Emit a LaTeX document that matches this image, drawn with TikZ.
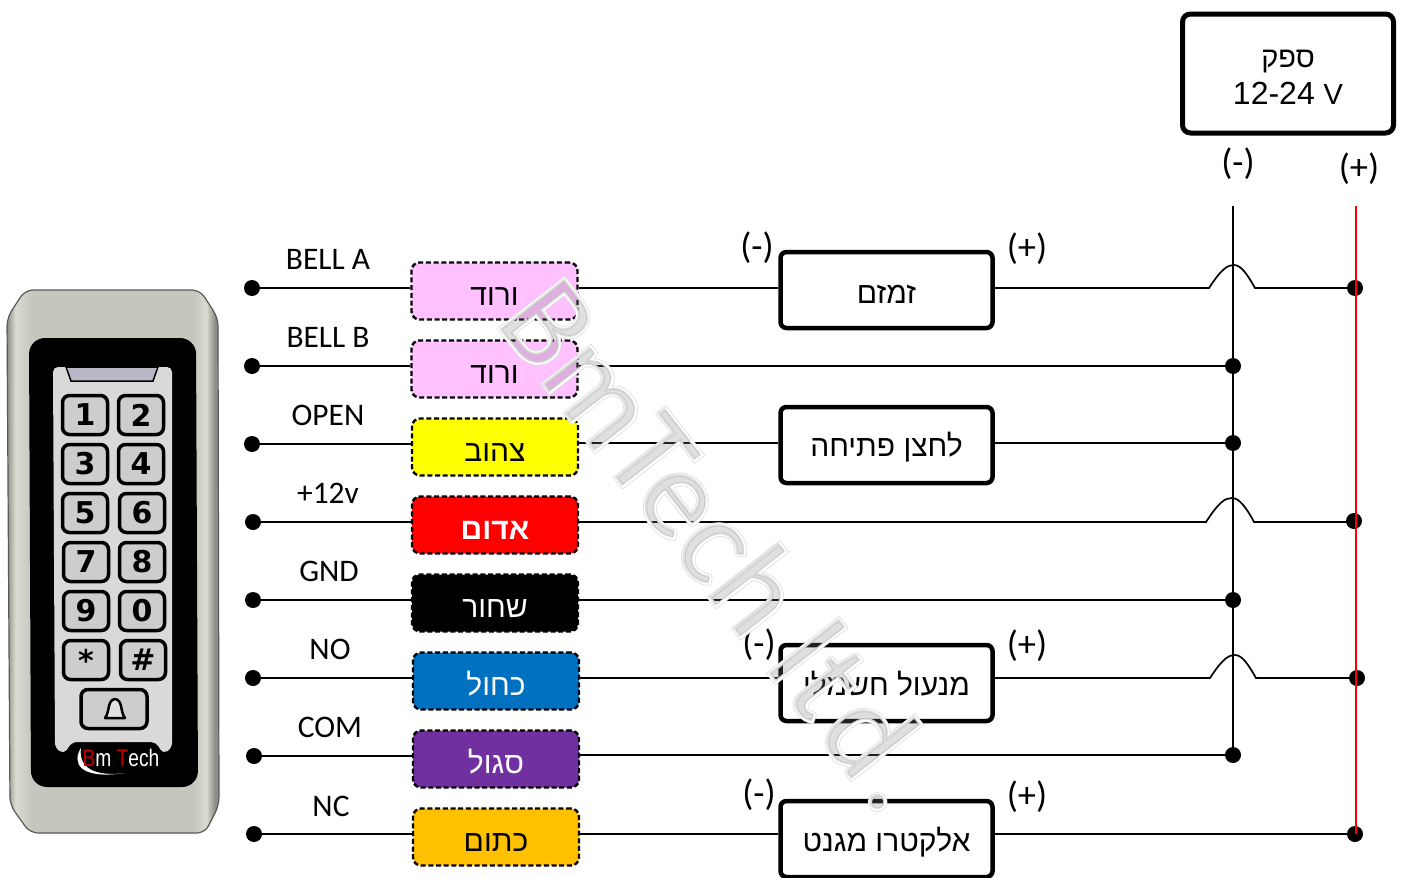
\documentclass[tikz,border=0pt]{standalone}
\usepackage{fontspec}
\usetikzlibrary{calc}
\setmainfont{Liberation Sans}
\newfontfamily\hefont[Script=Hebrew]{Liberation Sans}
\newfontfamily\parenfont{Carlito}
\newfontfamily\keyfont{DejaVu Sans}
\TeXXeTstate=1
\newcommand{\fs}[1]{\fontsize{#1}{#1}\selectfont}
\newcommand{\tg}[1]{\raisebox{-14pt}[0pt][0pt]{#1}}
\newcommand{\bk}[2]{\raisebox{-#1pt}[0pt][0pt]{#2}}
\definecolor{pinkc}{HTML}{FFC1FF}
\definecolor{yellowc}{HTML}{FFFF00}
\definecolor{redc}{HTML}{FF0000}
\definecolor{bluec}{HTML}{0070C0}
\definecolor{purplec}{HTML}{7030A0}
\definecolor{orangec}{HTML}{FFC000}
\definecolor{metaledge}{HTML}{8E8E88}
\definecolor{metalmid}{HTML}{C6C6BE}
\definecolor{metallight}{HTML}{DADAD0}
\definecolor{panelc}{HTML}{D9D9D9}
\definecolor{keyc}{HTML}{CDCDCD}
\definecolor{ledc}{HTML}{B8B8C6}
\pgfdeclarehorizontalshading{metalh}{100bp}{color(0bp)=(metaledge); color(25bp)=(metaledge); color(27bp)=(metallight); color(31bp)=(metalmid); color(69bp)=(metalmid); color(72bp)=(metallight); color(74bp)=(metaledge); color(100bp)=(metaledge)}
\tikzset{
  dotn/.style={circle,fill=black,inner sep=0pt,minimum size=16pt},
  jdot/.style={circle,fill=black,inner sep=0pt,minimum size=16pt},
  wire/.style={line width=1.7pt,black},
  redwire/.style={line width=1.7pt,redc},
  tagbox/.style={draw=black,dashed,dash pattern=on 5pt off 2.7pt,line width=2.4pt,rounded corners=8pt,minimum width=166pt,minimum height=57pt,inner sep=0pt,font=\fs{30}},
  blockbox/.style={draw=black,line width=4.5pt,rounded corners=6pt,fill=white,minimum width=212pt,minimum height=76pt,inner sep=0pt,font=\fs{30}},
  lab/.style={font=\parenfont\fs{31.4},inner sep=0pt},
  pol/.style={font=\parenfont\fs{36.5},inner sep=0pt},
  key/.style={draw=black,line width=3.5pt,rounded corners=7pt,fill=keyc,minimum width=45pt,minimum height=39pt,inner sep=0pt,font=\keyfont\bfseries\fs{30}},
}
\newcommand{\wm}[3]{\node[anchor=base west,inner sep=0pt,rotate=-52,font=\parenfont\fs{128},#3] at (494,322) {\special{pdf:code #1}BmTech l\kern4pt t\kern9pt d\kern9pt.\special{pdf:code 0 Tr}};}
\begin{document}
\begin{tikzpicture}[x=1pt,y=-1pt]
\useasboundingbox (0,0) rectangle (1403,878);
\fill[white] (0,0) rectangle (1403,878);
% reader body
\path[shading=metalh,draw=gray!70!black,line width=1.2pt,rounded corners=8pt] (25,290) -- (200,290) -- (218,318) -- (219,805) -- (205,833) -- (30,833) -- (10,805) -- (7,318) -- cycle;
\fill[black,rounded corners=16pt] (29,338) -- (196,338) -- (198,787) -- (31,787) -- cycle;
\fill[panelc,rounded corners=5pt] (53,367) -- (172,367) -- (172,748) -- (163,754) -- (156,742) -- (72,742) -- (64,754) -- (55,748) -- cycle;
\fill[ledc,draw=black,line width=1.5pt] (66,367) -- (158,367) -- (153,381) -- (71,381) -- cycle;
\node[key] (k1) at (85,415) {1};
\node[key] (k2) at (141,415) {2};
\node[key] (k3) at (85,464) {3};
\node[key] (k4) at (141,464) {4};
\node[key] (k5) at (85,513) {5};
\node[key] (k6) at (142,513) {6};
\node[key] (k7) at (86,562) {7};
\node[key] (k8) at (142,562) {8};
\node[key] (k9) at (86,611) {9};
\node[key] (k0) at (142,611) {0};
\node[key] (ks) at (86,660) {*};
\node[key] (kh) at (143,660) {\#};
\node[key,minimum width=66pt] (kb) at (114,709) {};
\draw[black,line width=2.5pt,fill=keyc!60!white,line join=round] (105,718) .. controls (110,712) and (107,700) .. (115,699) .. controls (123,700) and (120,712) .. (125,718) -- cycle;
\fill[white] (81,748) .. controls (72,762) and (78,780) .. (125,773) .. controls (95,777) and (78,768) .. (81,748) -- cycle;
\node[inner sep=0pt,font=\fs{24},white,xscale=.8] (logo) at (121,758) {\textcolor{red!75!black}{B}m \textcolor{red!75!black}{T}ech};
% terminals
\foreach \n/\x/\y in {1/252/288,2/252/366,3/252/444,4/253/522,5/253/600,6/253/678,7/254/756,8/254/834}
  \node[dotn] (d\n) at (\x,\y) {};
% tags
\node[tagbox,fill=pinkc] (t1) at (494.5,291) {\tg{\hefont\beginR ורוד\endR}};
\node[tagbox,fill=pinkc] (t2) at (494.5,369) {\tg{\hefont\beginR ורוד\endR}};
\node[tagbox,fill=yellowc] (t3) at (495,447) {\tg{\hefont\beginR צהוב\endR}};
\node[tagbox,fill=redc,text=white,font=\fs{30}\bfseries] (t4) at (495,525) {\tg{\hefont\beginR אדום\endR}};
\node[tagbox,fill=black,text=white] (t5) at (495,603) {\tg{\hefont\beginR שחור\endR}};
\node[tagbox,fill=bluec,text=white] (t6) at (496,681) {\tg{\hefont\beginR כחול\endR}};
\node[tagbox,fill=purplec,text=white] (t7) at (496,759) {\tg{\hefont\beginR סגול\endR}};
\node[tagbox,fill=orangec] (t8) at (496,837) {\tg{\hefont\beginR כתום\endR}};
% labels
\node[lab] (l1) at (328,259) {BELL A};
\node[lab] (l2) at (328,337) {BELL B};
\node[lab] (l3) at (328,415) {OPEN};
\node[lab] (l4) at (328,493) {+12v};
\node[lab] (l5) at (329,571) {GND};
\node[lab] (l6) at (330,649) {NO};
\node[lab] (l7) at (330,727) {COM};
\node[lab] (l8) at (331,806) {NC};
% blocks
\node[blockbox] (bz) at (886.5,290) {\bk{13.5}{\hefont\beginR זמזם\endR}};
\node[blockbox] (bo) at (886.5,445) {\bk{11.5}{\hefont\beginR לחצן פתיחה\endR}};
\node[blockbox] (bm) at (886.5,683) {\bk{12.5}{\hefont\beginR מנעול חשמלי\endR}};
\node[blockbox] (be) at (886.5,839) {\bk{12.5}{\hefont\beginR אלקטרו מגנט\endR}};
\node[draw=black,line width=5pt,rounded corners=8pt,minimum width=211pt,minimum height=119pt,inner sep=0pt,align=center,font=\fs{32}] (sup) at (1288,73.5) {\rule{0pt}{24pt}{\fs{29}\hefont\beginR ספק\endR}\\[5pt]12-24 {\fs{29}V}};
% bus nodes
\coordinate (nt) at (1233,206);
\coordinate (rt) at (1356,206);
\node[jdot] (j2) at (1233,366) {};
\node[jdot] (j3) at (1233,443) {};
\node[jdot] (j5) at (1233,600) {};
\node[jdot] (j7) at (1233,755) {};
\node[jdot] (r1) at (1355,288) {};
\node[jdot] (r4) at (1354,521) {};
\node[jdot] (r6) at (1357,678) {};
\node[jdot] (r8) at (1355,834) {};
\draw[redwire] (rt) -- (rt |- r8);
\draw[wire] (nt) -- (nt |- j7);
% left wires
\foreach \n in {1,...,8} \draw[wire] (d\n) -- (d\n -| t\n.west);
% right wires
\draw[wire] (d1 -| t1.east) -- (d1 -| bz.west);
\coordinate (h1a) at (1209,288); \coordinate (h1b) at (1255,288);
\draw[wire] (d1 -| bz.east) -- (h1a) .. controls (1222,268) and (1228,265) .. (1234,265) .. controls (1241,265) and (1247,274) .. (h1b) -- (r1);
\draw[wire] (d2 -| t2.east) -- (d2 -| j2);
\draw[wire] (j3 -| t3.east) -- (j3 -| bo.west);
\draw[wire] (j3 -| bo.east) -- (j3);
\coordinate (h4a) at (1206,522); \coordinate (h4b) at (1254,522);
\draw[wire] (h4a -| t4.east) -- (h4a) .. controls (1219,502) and (1225,498) .. (1232,498) .. controls (1239,498) and (1246,507) .. (h4b) -- (h4b -| r4);
\draw[wire] (d5 -| t5.east) -- (d5 -| j5);
\coordinate (h6a) at (1210,678); \coordinate (h6b) at (1256,678);
\draw[wire] (d6 -| t6.east) -- (d6 -| bm.west);
\draw[wire] (d6 -| bm.east) -- (h6a) .. controls (1223,658) and (1229,655) .. (1235,655) .. controls (1242,655) and (1248,664) .. (h6b) -- (r6);
\draw[wire] (j7 -| t7.east) -- (j7);
\draw[wire] (d8 -| t8.east) -- (d8 -| be.west);
\draw[wire] (d8 -| be.east) -- (r8);
% polarity
\node[pol] (p1) at (1238,164) {(-)};
\node[pol] (p2) at (1359,169) {(+)};
\node[pol] (p3) at (757,248) {(-)};
\node[pol] (p4) at (1027,249) {(+)};
\node[pol] (p5) at (759,645) {(-)};
\node[pol] (p6) at (1027,646) {(+)};
\node[pol] (p7) at (759,795) {(-)};
\node[pol] (p8) at (1027,797) {(+)};
% watermark
\wm{1 Tr 4.2 w 0.86 0.86 0.86 RG}{}{}
\wm{1 Tr 2.8 w 1 1 1 RG}{}{}
\wm{}{}{text=gray,text opacity=.25}
\end{tikzpicture}
\end{document}
